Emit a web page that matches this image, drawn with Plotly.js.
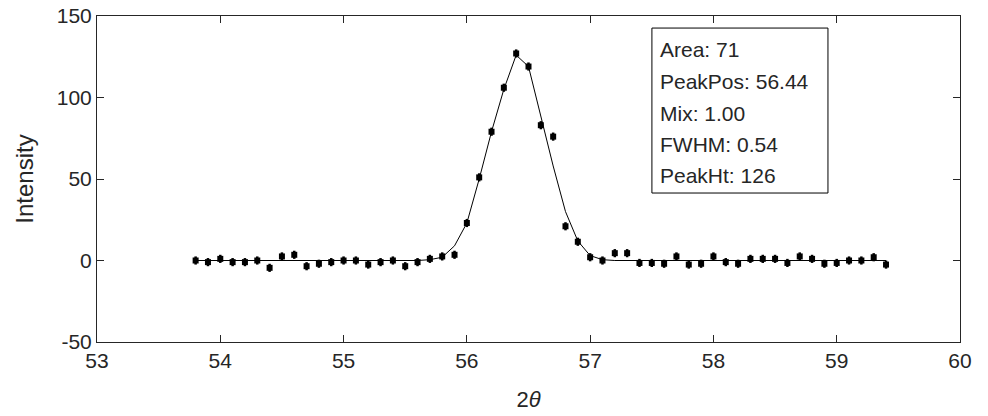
<!DOCTYPE html>
<html>
<head>
<meta charset="utf-8">
<script src="https://cdn.plot.ly/plotly-3.0.1.min.js"></script>
<style>html,body{margin:0;padding:0;background:#fff;}#chart{width:988px;height:416px;}</style>
</head>
<body>
<div id="chart"></div>
<script>
// 2theta positions (deg)
const twoTheta = [53.8,53.9,54.0,54.1,54.2,54.3,54.4,54.5,54.6,54.7,54.8,54.9,55.0,55.1,55.2,55.3,55.4,55.5,55.6,55.7,55.8,55.9,56.0,56.1,56.2,56.3,56.4,56.5,56.6,56.7,56.8,56.9,57.0,57.1,57.2,57.3,57.4,57.5,57.6,57.7,57.8,57.9,58.0,58.1,58.2,58.3,58.4,58.5,58.6,58.7,58.8,58.9,59.0,59.1,59.2,59.3,59.4];
// measured intensity
const intensity = [0,-1,1,-1,-1,0,-4.5,2.5,3.5,-3.5,-2,-1,0,0,-2.5,-1,0,-3.5,-1,1,2.5,3.5,23,51,79,106,127,119,83,76,21,11.5,2,0,4.5,4.5,-1.5,-1.5,-2,2.5,-2.5,-2,2.5,-1,-2,1,1,1,-1.5,2.5,1,-2,-1.5,0,0,2,-2.5];
// fitted profile values at the same positions
const fitted = [0,0,0,0,0,0,0,0,0,0,0,0,0,0,0,0,0,0,0,0.5,2,9,23,50,79,105,126,119,88,58,30,12,3,0.5,0,0,0,0,0,0,0,0,0,0,0,0,0,0,0,0,0,0,0,0,0,0,0];
// error bar half-length
const errHalf = twoTheta.map(() => 2.5);
// fit results text
const fitLabels = ["Area: 71","PeakPos: 56.44","Mix: 1.00","FWHM: 0.54","PeakHt: 126"];
const xTicks = [53,54,55,56,57,58,59,60];
const yTicks = [-50,0,50,100,150];

const font = "Arial, 'Liberation Sans', Helvetica, sans-serif";
const axisColor = "#262626";

const traces = [
  {x: twoTheta, y: fitted, type: "scatter", mode: "lines", line: {color: "#000", width: 1}, hoverinfo: "skip"},
  {x: twoTheta, y: intensity, type: "scatter", mode: "markers",
   marker: {color: "#000", size: 6, symbol: "square"},
   error_y: {type: "data", array: errHalf, visible: true, color: "#000", thickness: 2.5, width: 0}}
];

const lineY = [0.896, 0.800, 0.702, 0.607, 0.510];
const annotations = fitLabels.map((t, i) => ({
  text: t, xref: "paper", yref: "paper", x: 0.650, y: lineY[i], xanchor: "left", yanchor: "middle",
  showarrow: false, font: {family: font, size: 21, color: "#262626"}
}));

const layout = {
  width: 988, height: 416,
  margin: {l: 97, r: 28, t: 16, b: 74, pad: 0},
  paper_bgcolor: "#fff", plot_bgcolor: "#fff",
  showlegend: false,
  font: {family: font, color: axisColor},
  xaxis: {
    range: [53, 60], tickvals: xTicks, ticktext: xTicks.map(String),
    ticks: "inside", ticklen: 7, tickcolor: axisColor, tickwidth: 1,
    showline: true, linecolor: axisColor, linewidth: 1, mirror: "ticks",
    showgrid: false, zeroline: false,
    tickfont: {family: font, size: 21, color: axisColor},
    title: {text: "2<i>θ</i>", font: {family: font, size: 22, color: axisColor}, standoff: 20}
  },
  yaxis: {
    range: [-50, 150], tickvals: yTicks, ticktext: yTicks.map(String),
    ticks: "inside", ticklen: 7, tickcolor: axisColor, tickwidth: 1,
    showline: true, linecolor: axisColor, linewidth: 1, mirror: "ticks",
    showgrid: false, zeroline: false,
    tickfont: {family: font, size: 21, color: axisColor},
    title: {text: "Intensity", font: {family: font, size: 24, color: axisColor}, standoff: 16}
  },
  shapes: [{type: "rect", xref: "paper", yref: "paper", x0: 0.643, x1: 0.847, y0: 0.457, y1: 0.963,
            line: {color: "#000", width: 1}, fillcolor: "#fff", layer: "above"}],
  annotations: annotations
};

Plotly.newPlot("chart", traces, layout, {displayModeBar: false, staticPlot: true});
</script>
</body>
</html>
